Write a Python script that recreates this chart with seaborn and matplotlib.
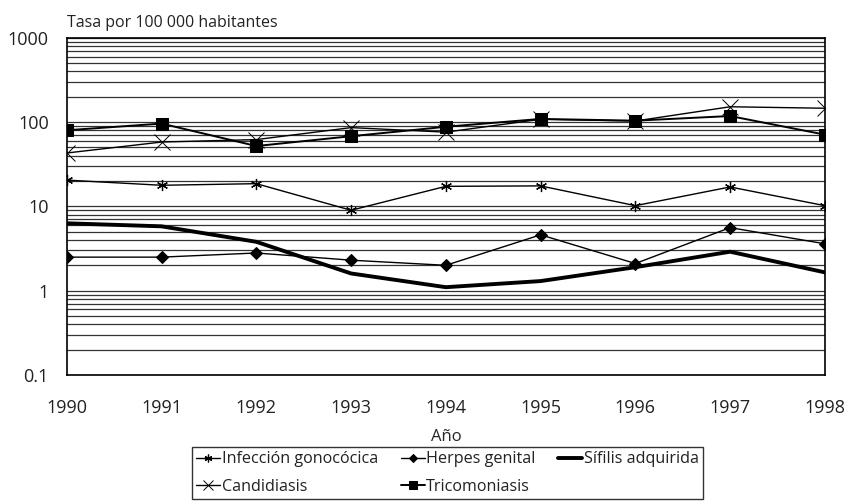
import seaborn as sns
import matplotlib.pyplot as plt
import matplotlib.ticker as mticker
import numpy as np

# Tasas por 100 000 habitantes, 1990-1998
years = [1990, 1991, 1992, 1993, 1994, 1995, 1996, 1997, 1998]
gonococica = [20.5, 17.8, 18.6, 9.0, 17.3, 17.5, 10.2, 17.0, 10.2]
herpes = [2.5, 2.5, 2.8, 2.3, 2.0, 4.6, 2.1, 5.6, 3.6]
sifilis = [6.3, 5.8, 3.8, 1.6, 1.1, 1.3, 1.9, 2.9, 1.65]
candidiasis = [43, 58, 62, 86, 76, 108, 103, 152, 146]
tricomoniasis = [80, 96, 52, 68, 88, 109, 104, 118, 71]

sns.set_style("white")
plt.rcParams['font.family'] = ['Open Sans', 'DejaVu Sans']
plt.rcParams['text.color'] = '#222222'

fig = plt.figure(figsize=(8.46, 5.04), dpi=100)
ax = fig.add_axes([0.079, 0.256, 0.896, 0.669])

# orden para que la leyenda de 3 columnas quede por filas
series = [
    ("Infección gonocócica", gonococica, dict(marker=(6, 2, 0), markersize=8, lw=1.0, mew=0.9)),
    ("Candidiasis", candidiasis, dict(marker="x", markersize=11, lw=1.0, mew=0.7)),
    ("Herpes genital", herpes, dict(marker="D", markersize=6, lw=1.0)),
    ("Tricomoniasis", tricomoniasis, dict(marker="s", markersize=9, lw=1.4)),
    ("Sífilis adquirida", sifilis, dict(lw=2.8)),
]
for name, vals, kw in series:
    sns.lineplot(x=years, y=vals, ax=ax, color="black", label=name,
                 markeredgecolor="black", **kw)

ax.set_yscale("log")
ax.set_ylim(0.1, 1000)
ax.set_xlim(1990, 1998)
ax.yaxis.set_major_locator(mticker.LogLocator(base=10))
ax.yaxis.set_minor_locator(mticker.LogLocator(base=10, subs=np.arange(2, 10)))
ax.yaxis.set_major_formatter(mticker.FuncFormatter(lambda v, p: f"{v:g}"))
ax.yaxis.set_minor_formatter(mticker.NullFormatter())
ax.grid(True, which="both", axis="y", color="#333333", lw=0.9)
ax.tick_params(axis="both", which="both", length=0, labelsize=13, colors="#222222")
ax.tick_params(axis="y", pad=13)
ax.tick_params(axis="x", pad=17)
ax.set_xticks(years)
for s in ax.spines.values():
    s.set_color("black")
    s.set_linewidth(1.2)

ax.set_xlabel("Año", fontsize=12, labelpad=9)
ax.set_ylabel("")
fig.text(0.079, 0.946, "Tasa por 100 000 habitantes", fontsize=11.5, ha="left", va="baseline")

leg = ax.legend(loc="upper left", bbox_to_anchor=(0.165, -0.215), ncol=3,
                fontsize=11.6, frameon=True, fancybox=False, handlelength=1.5,
                handletextpad=0.1, columnspacing=1.4, labelspacing=0.7,
                borderpad=0.25, borderaxespad=0, markerscale=0.7)
leg.get_frame().set_edgecolor("black")
leg.get_frame().set_linewidth(1.0)

fig.savefig("out.png", dpi=100)
